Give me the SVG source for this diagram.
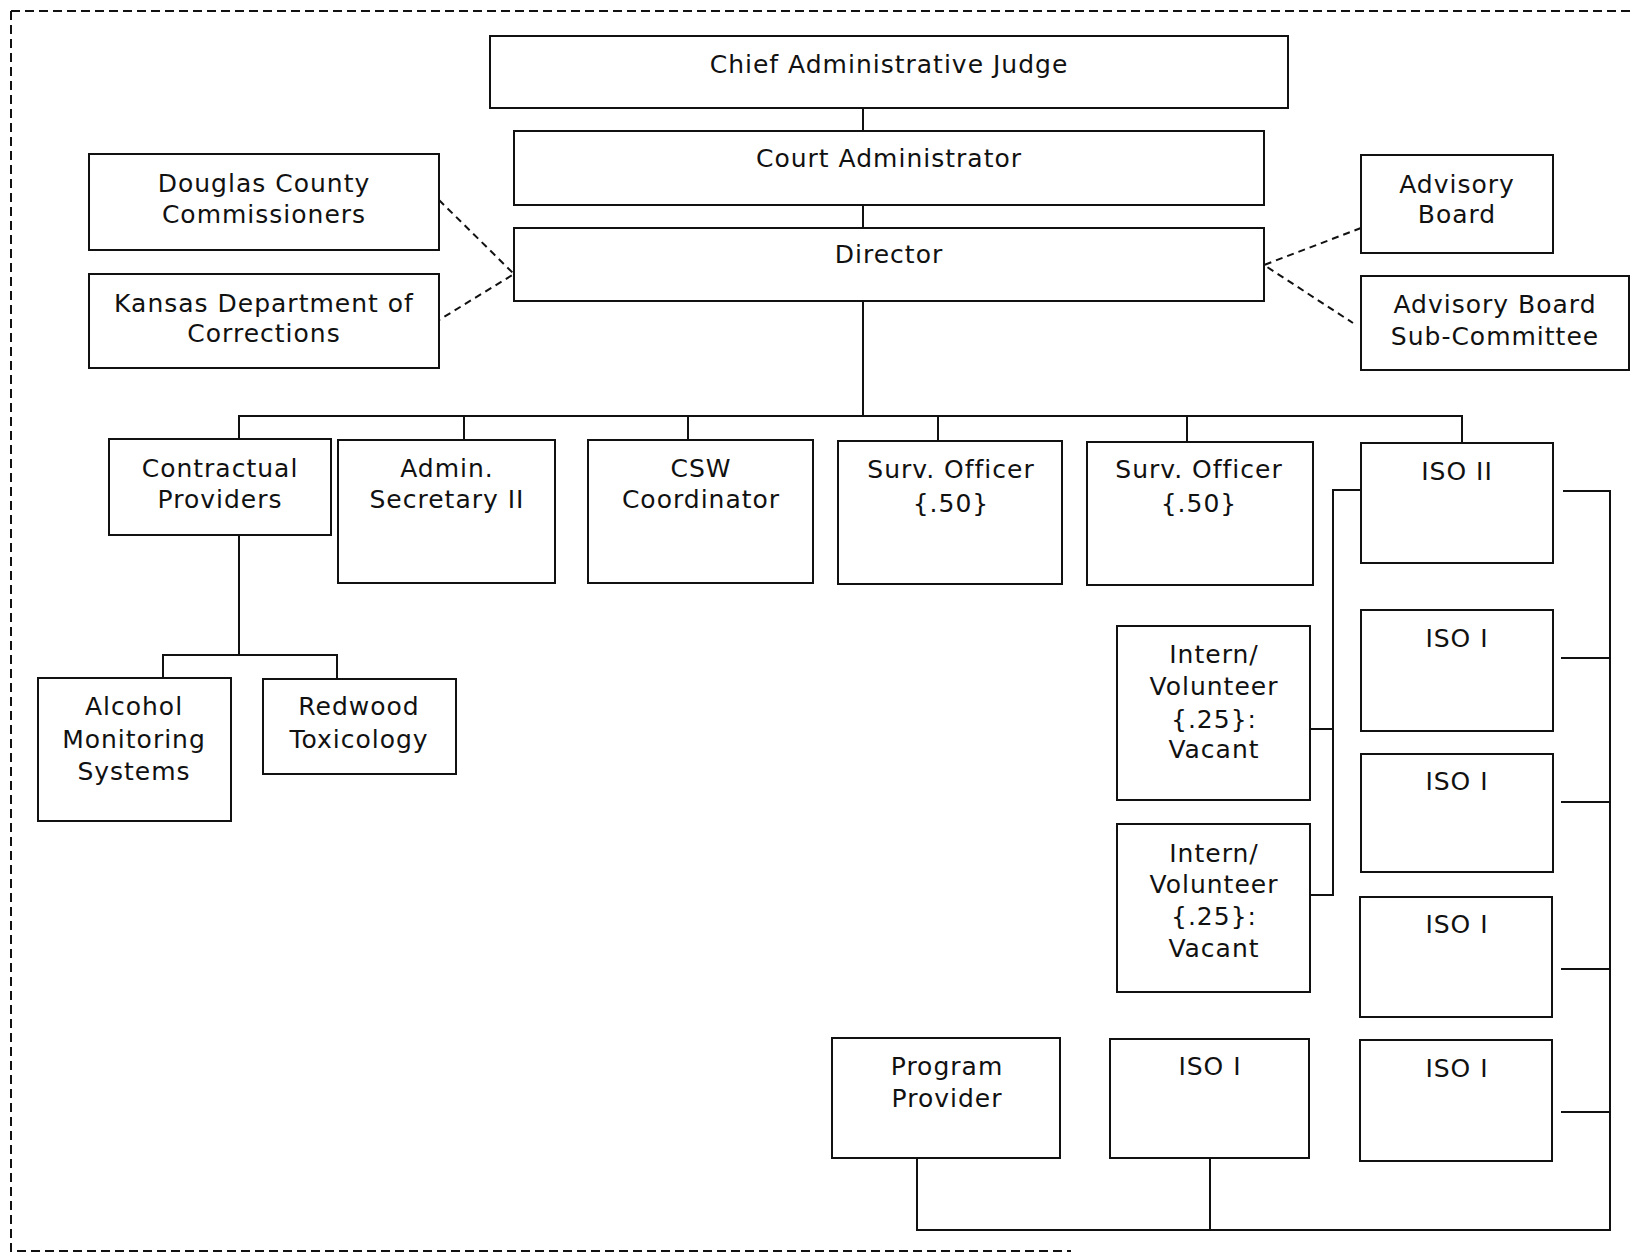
<svg xmlns="http://www.w3.org/2000/svg" width="1631" height="1255" viewBox="0 0 1631 1255">
<style>
.box{fill:#fff;stroke:#111;stroke-width:2}
.ln{fill:none;stroke:#111;stroke-width:2}
.dl{fill:none;stroke:#111;stroke-width:2;stroke-dasharray:7 5}
.border{fill:none;stroke:#111;stroke-width:2;stroke-dasharray:9 5}
text{font-family:"DejaVu Sans","Verdana",sans-serif;font-size:25px;fill:#111;text-anchor:middle;letter-spacing:1px}
</style>
<rect width="1631" height="1255" fill="#fff"/>
<g id="border">
<path class="border" d="M11,11 H1631 M11,11 V1251 H1071"/>
</g>
<g id="connectors">
<path class="ln" d="M863,108 V131 M863,205 V228 M863,301 V416"/>
<path class="ln" d="M239,439 V416 H1462 V443 M464,416 V440 M688,416 V440 M938,416 V441 M1187,416 V442"/>
<path class="ln" d="M239,535 V655 M163,678 V655 H337 V679"/>
<path class="ln" d="M1361,490 H1333 V895 H1310 M1310,729 H1333"/>
<path class="ln" d="M1563,491 H1610 V1230 H917 V1158 M1210,1158 V1230 M1561,658 H1610 M1561,802 H1610 M1561,969 H1610 M1561,1112 H1610"/>
<path class="dl" d="M439,200 L514,274 L439,320"/>
<path class="dl" d="M1361,228 L1264,265 L1353,323"/>
</g>
<g id="chief"><rect class="box" x="490" y="36" width="798" height="72"/><text x="889" y="73">Chief Administrative Judge</text></g>
<g id="court-admin"><rect class="box" x="514" y="131" width="750" height="74"/><text x="889" y="167">Court Administrator</text></g>
<g id="director"><rect class="box" x="514" y="228" width="750" height="73"/><text x="889" y="263">Director</text></g>
<g id="douglas"><rect class="box" x="89" y="154" width="350" height="96"/><text x="264" y="192">Douglas County</text><text x="264" y="223">Commissioners</text></g>
<g id="kansas"><rect class="box" x="89" y="274" width="350" height="94"/><text x="264" y="312">Kansas Department of</text><text x="264" y="342">Corrections</text></g>
<g id="advisory-board"><rect class="box" x="1361" y="155" width="192" height="98"/><text x="1457" y="193">Advisory</text><text x="1457" y="223">Board</text></g>
<g id="advisory-sub"><rect class="box" x="1361" y="276" width="268" height="94"/><text x="1495" y="313">Advisory Board</text><text x="1495" y="345">Sub-Committee</text></g>
<g id="contractual"><rect class="box" x="109" y="439" width="222" height="96"/><text x="220" y="477">Contractual</text><text x="220" y="508">Providers</text></g>
<g id="admin-sec"><rect class="box" x="338" y="440" width="217" height="143"/><text x="447" y="477">Admin.</text><text x="447" y="508">Secretary II</text></g>
<g id="csw"><rect class="box" x="588" y="440" width="225" height="143"/><text x="701" y="477">CSW</text><text x="701" y="508">Coordinator</text></g>
<g id="surv1"><rect class="box" x="838" y="441" width="224" height="143"/><text x="951" y="478">Surv. Officer</text><text x="951" y="512">{.50}</text></g>
<g id="surv2"><rect class="box" x="1087" y="442" width="226" height="143"/><text x="1199" y="478">Surv. Officer</text><text x="1199" y="512">{.50}</text></g>
<g id="iso2"><rect class="box" x="1361" y="443" width="192" height="120"/><text x="1457" y="480">ISO II</text></g>
<g id="iso1-a"><rect class="box" x="1361" y="610" width="192" height="121"/><text x="1457" y="647">ISO I</text></g>
<g id="iso1-b"><rect class="box" x="1361" y="754" width="192" height="118"/><text x="1457" y="790">ISO I</text></g>
<g id="iso1-c"><rect class="box" x="1360" y="897" width="192" height="120"/><text x="1457" y="933">ISO I</text></g>
<g id="iso1-d"><rect class="box" x="1360" y="1040" width="192" height="121"/><text x="1457" y="1077">ISO I</text></g>
<g id="intern1"><rect class="box" x="1117" y="626" width="193" height="174"/><text x="1214" y="663">Intern/</text><text x="1214" y="695">Volunteer</text><text x="1214" y="728">{.25}:</text><text x="1214" y="758">Vacant</text></g>
<g id="intern2"><rect class="box" x="1117" y="824" width="193" height="168"/><text x="1214" y="862">Intern/</text><text x="1214" y="893">Volunteer</text><text x="1214" y="925">{.25}:</text><text x="1214" y="957">Vacant</text></g>
<g id="program-provider"><rect class="box" x="832" y="1038" width="228" height="120"/><text x="947" y="1075">Program</text><text x="947" y="1107">Provider</text></g>
<g id="iso1-e"><rect class="box" x="1110" y="1039" width="199" height="119"/><text x="1210" y="1075">ISO I</text></g>
<g id="alcohol"><rect class="box" x="38" y="678" width="193" height="143"/><text x="134" y="715">Alcohol</text><text x="134" y="748">Monitoring</text><text x="134" y="780">Systems</text></g>
<g id="redwood"><rect class="box" x="263" y="679" width="193" height="95"/><text x="359" y="715">Redwood</text><text x="359" y="748">Toxicology</text></g>
</svg>
